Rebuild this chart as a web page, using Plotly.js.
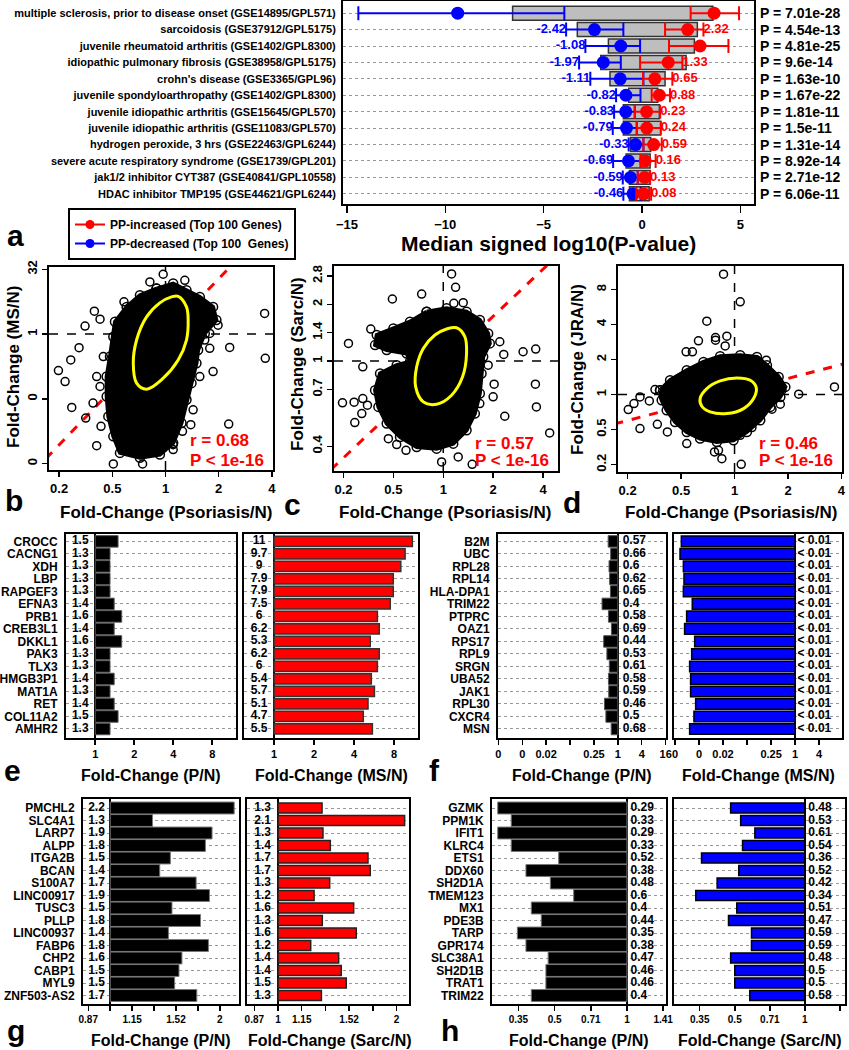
<!DOCTYPE html>
<html><head><meta charset="utf-8">
<script src="https://cdn.plot.ly/plotly-3.0.1.min.js"></script>
<style>html,body{margin:0;padding:0;background:#fff}#chart{width:849px;height:1050px}</style>
</head><body><div id="chart"></div>
<script>
// ================= DATA =================
// Panel a
const aNames = [
 "multiple sclerosis, prior to disease onset (GSE14895/GPL571)",
 "sarcoidosis (GSE37912/GPL5175)",
 "juvenile rheumatoid arthritis (GSE1402/GPL8300)",
 "idiopathic pulmonary fibrosis (GSE38958/GPL5175)",
 "crohn's disease (GSE3365/GPL96)",
 "juvenile spondyloarthropathy (GSE1402/GPL8300)",
 "juvenile idiopathic arthritis (GSE15645/GPL570)",
 "juvenile idiopathic arthritis (GSE11083/GPL570)",
 "hydrogen peroxide, 3 hrs (GSE22463/GPL6244)",
 "severe acute respiratory syndrome (GSE1739/GPL201)",
 "jak1/2 inhibitor CYT387 (GSE40841/GPL10558)",
 "HDAC inhibitor TMP195 (GSE44621/GPL6244)"];
const aPvals = ["7.01e-28","4.54e-13","4.81e-25","9.6e-14","1.63e-10","1.67e-22","1.81e-11","1.5e-11","1.31e-14","8.92e-14","2.71e-12","6.06e-11"];
const aBoxLo = [-6.58,-3.29,-1.71,-2.10,-1.63,-0.68,-0.95,-0.95,-0.58,-0.81,-0.64,-0.64];
const aBoxHi = [3.60,2.81,2.66,2.24,1.17,0.80,0.88,0.95,0.44,0.41,0.41,0.36];
const aBlueMed = [-9.37,-2.42,-1.08,-1.97,-1.11,-0.82,-0.83,-0.79,-0.33,-0.69,-0.59,-0.46];
const aBlueLo  = [-14.42,-3.86,-2.88,-3.20,-2.63,-1.32,-1.42,-1.49,-0.68,-1.47,-0.98,-0.95];
const aBlueHi  = [-3.95,-0.95,-0.10,-1.08,0.07,-0.08,-0.37,-0.27,0.07,-0.07,-0.22,-0.07];
const aBlueLab = ["","-2.42","-1.08","-1.97","-1.11","-0.82","-0.83","-0.79","-0.33","-0.69","-0.59","-0.46"];
const aRedMed = [3.66,2.32,2.95,1.33,0.65,0.88,0.23,0.24,0.59,0.16,0.13,0.08];
const aRedLo  = [2.47,1.17,1.37,-0.10,0.05,0.49,-0.37,-0.27,0.07,-0.07,-0.22,-0.29];
const aRedHi  = [4.93,3.12,4.39,2.05,1.54,1.42,0.92,0.95,1.00,0.69,0.41,0.46];
const aRedLab = ["","2.32","","1.33","0.65","0.88","0.23","0.24","0.59","0.16","0.13","0.08"];

// Panel b (log2 fold-change, Psoriasis/N vs MS/N)
const bCloudX = [-0.169,0.144,0.394,0.644,0.894,0.956,0.7375,0.6125,0.581,0.488,0.394,0.300,0.144,-0.106,-0.481,-0.856,-0.981,-1.075,-1.106,-1.106,-1.044,-0.981,-0.95,-0.731,-0.481];
const bCloudY = [3.51,3.90,3.38,2.87,2.10,1.08,0.05,-1.23,-2.26,-3.79,-5.08,-6.87,-8.41,-9.31,-9.56,-9.18,-7.90,-6.36,-4.82,-3.28,-1.74,-0.21,0.95,2.10,3.0];
const bEllX = [0.2375,0.394,0.425,0.394,0.2375,-0.044,-0.356,-0.544,-0.606,-0.544,-0.356,-0.106,0.1125,0.2375];
const bEllY = [2.92,2.10,1.08,-0.46,-2.0,-3.41,-4.26,-3.79,-2.26,-0.46,1.33,2.41,2.87,2.92];
const bOutX = [-0.044,-0.294,0.3625,-0.781,-1.3375,-1.231,-1.5125,-1.625,-1.781,-2.0125,-1.8875,-1.7625,-1.5,-1.294,-0.981,-0.431,1.8625,1.875,1.206,0.9875,0.831,0.894,1.1875,0.475,0.319,0.144,-1.2125,-1.3625,-1.231,-1.294,-1.169,0.831,0.7375,0.644,0.519,0.144,-0.825,-1.0125];
const bOutY = [4.62,4.03,4.15,2.49,1.77,1.15,0.62,-1.05,-2.0,-2.82,-3.67,-5.67,-6.49,-8.62,-10.03,-10.03,1.59,-1.87,-1.03,0.69,-1.10,-2.90,-6.95,-7.0,-7.51,-8.54,-7.13,-5.33,-4.05,-3.28,-1.74,0.05,-0.46,-3.28,-5.85,-8.92,-8.92,-4.31];
const bLineX = [-2.25,1.3], bLineY = [-9.63,5.56];
const bXTicks = ["0.2","0.5","1","2","4"], bYTicks = ["32","1","0","0"];

// Panel c (Psoriasis/N vs Sarc/N)
const cCloudX = [-0.333,0.067,0.467,0.733,0.9,0.933,0.8,0.767,0.733,0.633,0.467,0.2,-0.133,-0.533,-0.867,-1.133,-1.3,-1.367,-1.267,-0.933,-0.667,-0.733,-1.133,-1.367,-1.333,-1.0,-0.667];
const cCloudY = [0.871,0.929,0.871,0.724,0.488,0.312,0.076,-0.218,-0.571,-0.924,-1.218,-1.453,-1.541,-1.512,-1.335,-1.1,-0.806,-0.512,-0.218,-0.071,-0.012,0.135,0.194,0.282,0.459,0.576,0.694];
const cEllX = [0.267,0.433,0.467,0.387,0.167,-0.133,-0.4,-0.553,-0.533,-0.4,-0.167,0.067,0.267];
const cEllY = [0.588,0.429,0.135,-0.276,-0.6,-0.759,-0.718,-0.453,-0.1,0.224,0.459,0.565,0.588];
const cOutX = [0.167,0.247,0.213,0.4,-0.433,-1.02,-1.453,-1.9,-1.613,-2.02,-1.787,-1.613,-1.52,-1.773,-1.633,-1.1,-0.933,-0.747,-0.033,0.3,0.58,1.133,1.6,1.853,1.213,1.02,1.233,1.847,1.867,2.133,1.0,0.9,0.733];
const cOutY = [1.535,1.3,1.018,1.03,1.18,1.094,0.565,0.312,-0.1,-0.735,-0.724,-0.659,-0.776,-1.082,-0.924,-1.365,-1.47,-1.571,-1.776,-1.688,-1.818,0.341,0.165,0.212,0.118,-0.406,-0.971,-0.406,-0.806,-1.265,-0.629,-0.071,-0.747];
const cLineX = [-2.25,2.35], cLineY = [-1.91,1.91];
const cYTicks = ["2.8","2","1.4","1","0.7","0.4"];

// Panel d (Psoriasis/N vs JRA/N)
const dCloudX = [-1.394,-1.206,-0.894,-0.581,-0.269,0.106,0.419,0.606,0.825,0.95,0.856,0.669,0.481,0.231,-0.019,-0.331,-0.644,-0.894,-1.1125,-1.269,-1.3625];
const dCloudY = [0.124,0.41,0.695,0.933,1.095,1.124,1.076,0.838,0.505,0.219,-0.067,-0.352,-0.733,-1.067,-1.305,-1.352,-1.257,-1.067,-0.781,-0.448,-0.162];
const dEllX = [-0.644,-0.519,-0.269,0.044,0.294,0.406,0.356,0.169,-0.144,-0.456,-0.6125,-0.644];
const dEllY = [-0.114,0.171,0.39,0.476,0.41,0.2,-0.114,-0.4,-0.543,-0.495,-0.333,-0.114];
const dOutX = [-0.206,0.106,-0.519,-0.356,-0.356,-0.675,-0.144,-0.906,-0.788,0.138,0.419,-0.175,-1.769,-1.988,-1.881,-1.594,-1.488,-1.769,-1.444,-1.256,-0.894,-0.375,-0.3,-0.2375,0.125,0.594,0.7625,0.856,0.7,1.2,1.869,0.325,0.106,0.8875,0.731,-1.05,-1.331];
const dOutY = [3.438,2.648,2.095,1.629,1.552,1.533,1.667,1.219,1.219,1.0,0.981,1.39,-0.067,-0.429,-0.257,-0.181,0.143,-0.971,-0.848,-1.067,-1.4,-1.638,-1.59,-1.829,-1.99,0.981,0.505,-0.276,-0.419,0.01,0.219,-0.943,-1.162,0.124,0.381,-0.733,-0.067];
const dLineX = [-2.25,2.1], dLineY = [-0.84,0.90];
const dYTicks = ["8","4","2","1","0.5","0.2"];

// Panel e
const eGenes = ["CROCC","CACNG1","XDH","LBP","RAPGEF3","EFNA3","PRB1","CREB3L1","DKKL1","PAK3","TLX3","HMGB3P1","MAT1A","RET","COL11A2","AMHR2"];
const eP  = [1.5,1.3,1.3,1.3,1.3,1.4,1.6,1.4,1.6,1.3,1.3,1.4,1.3,1.4,1.5,1.3];
const eMS = [11,9.7,9,7.9,7.9,7.5,6,6.2,5.3,6.2,6,5.4,5.7,5.1,4.7,5.5];
// Panel f
const fGenes = ["B2M","UBC","RPL28","RPL14","HLA-DPA1","TRIM22","PTPRC","OAZ1","RPS17","RPL9","SRGN","UBA52","JAK1","RPL30","CXCR4","MSN"];
const fP = [0.57,0.66,0.6,0.62,0.65,0.4,0.58,0.69,0.44,0.53,0.61,0.58,0.59,0.46,0.5,0.68];
const fMSlog2 = [-9.47,-9.58,-9.3,-9.25,-9.3,-8.56,-9.03,-9.2,-8.36,-8.61,-8.78,-8.7,-8.7,-8.28,-8.42,-8.78];
const fMSlab = "< 0.01";
// Panel g
const gGenes = ["PMCHL2","SLC4A1","LARP7","ALPP","ITGA2B","BCAN","S100A7","LINC00917","TUSC3","PLLP","LINC00937","FABP6","CHP2","CABP1","MYL9","ZNF503-AS2"];
const gP = [2.19,1.307,1.904,1.826,1.463,1.368,1.722,1.873,1.478,1.770,1.445,1.861,1.574,1.545,1.503,1.729];
const gPlab = ["2.2","1.3","1.9","1.8","1.5","1.4","1.7","1.9","1.5","1.8","1.4","1.8","1.6","1.5","1.5","1.7"];
const gSarc = [1.294,2.098,1.301,1.358,1.693,1.716,1.353,1.235,1.557,1.296,1.581,1.211,1.426,1.448,1.491,1.289];
const gSarcLab = ["1.3","2.1","1.3","1.4","1.7","1.7","1.3","1.2","1.6","1.3","1.6","1.2","1.4","1.4","1.5","1.3"];
// Panel h
const hGenes = ["GZMK","PPM1K","IFIT1","KLRC4","ETS1","DDX60","SH2D1A","TMEM123","MX1","PDE3B","TARP","GPR174","SLC38A1","SH2D1B","TRAT1","TRIM22"];
const hP = [0.29,0.33,0.29,0.33,0.52,0.38,0.48,0.6,0.4,0.44,0.35,0.38,0.47,0.46,0.46,0.4];
const hSarc = [0.48,0.53,0.61,0.54,0.36,0.52,0.42,0.34,0.51,0.47,0.59,0.59,0.48,0.5,0.5,0.58];

// ================= HELPERS =================
const F = '"Liberation Sans", Arial, Helvetica, sans-serif';
const W = 849, H = 1050;
const xd = (a,b) => [a/W, b/W];
const yd = (t,b) => [1-b/H, 1-t/H];
const idx = n => Array.from({length:n}, (_,i) => i);
const fnt = (size, color) => ({family:F, size:size, color:color||'#000', weight:'bold'});
function ax(extra){
  return Object.assign({showline:true, mirror:true, linecolor:'#000', linewidth:2,
    ticks:'outside', ticklen:5, tickwidth:1.5, tickcolor:'#000', zeroline:false,
    showgrid:false, fixedrange:true, tickfont:fnt(12)}, extra);
}
const fmt = v => String(v);

const traces = [];
const layout = {width:W, height:H, margin:{l:0,r:0,t:0,b:0}, paper_bgcolor:'#fff', plot_bgcolor:'#fff',
  font:{family:F}, showlegend:true, shapes:[], annotations:[]};

// ================= PANEL a =================
layout.xaxis = ax({domain:xd(343,754), anchor:'y', range:[-15.2,5.69], tickvals:[-15,-10,-5,0,5], ticklen:7, tickfont:fnt(13)});
layout.yaxis = ax({domain:yd(1,204), anchor:'x', range:[11.62,-0.74], tickvals:idx(12), ticktext:aNames, ticks:'',
  showgrid:true, gridcolor:'#999', griddash:'dot', gridwidth:1, tickfont:fnt(11), ticklabelstandoff:3});
traces.push({type:'bar', orientation:'h', xaxis:'x', yaxis:'y', y:idx(12), base:aBoxLo,
  x:aBoxHi.map((h,i)=>h-aBoxLo[i]), width:0.85, marker:{color:'#BEBEBE', line:{color:'#333', width:1.5}}, showlegend:false, hoverinfo:'skip'});
traces.push({type:'scatter', mode:'markers', xaxis:'x', yaxis:'y', x:aBlueMed, y:idx(12), showlegend:false,
  marker:{color:'#0000FF', size:13},
  error_x:{type:'data', symmetric:false, array:aBlueHi.map((h,i)=>h-aBlueMed[i]), arrayminus:aBlueMed.map((m,i)=>m-aBlueLo[i]), color:'#0000FF', thickness:2, width:7}});
traces.push({type:'scatter', mode:'markers', xaxis:'x', yaxis:'y', x:aRedMed, y:idx(12), showlegend:false,
  marker:{color:'#FF0000', size:13},
  error_x:{type:'data', symmetric:false, array:aRedHi.map((h,i)=>h-aRedMed[i]), arrayminus:aRedMed.map((m,i)=>m-aRedLo[i]), color:'#FF0000', thickness:2, width:7}});
traces.push({type:'scatter', mode:'text', xaxis:'x', yaxis:'y', x:aBlueLo, y:idx(12), text:aBlueLab, textposition:'middle left', textfont:fnt(13,'#0000FF'), showlegend:false});
traces.push({type:'scatter', mode:'text', xaxis:'x', yaxis:'y', x:aRedHi, y:idx(12), text:aRedLab, textposition:'middle right', textfont:fnt(13,'#FF0000'), showlegend:false});
// legend entries
traces.push({type:'scatter', mode:'lines+markers', xaxis:'x', yaxis:'y', x:[null], y:[null], name:'PP-increased (Top 100 Genes)', line:{color:'#FF0000', width:2}, marker:{color:'#FF0000', size:9}});
traces.push({type:'scatter', mode:'lines+markers', xaxis:'x', yaxis:'y', x:[null], y:[null], name:'PP-decreased (Top 100  Genes)', line:{color:'#0000FF', width:2}, marker:{color:'#0000FF', size:9}});
layout.legend = {x:68/W, y:1-208/H, xanchor:'left', yanchor:'top', bordercolor:'#000', borderwidth:2, bgcolor:'#fff',
  font:fnt(12), tracegroupgap:0, itemwidth:30};
aPvals.forEach((p,i)=>layout.annotations.push({text:'P = '+p, xref:'paper', yref:'y', x:758/W, y:i, xanchor:'left', yanchor:'middle', showarrow:false, font:fnt(14)}));

// ================= PANELS b, c, d =================
function scatterPanel(n, box, xr, yr, ytv, ytt, cloudX, cloudY, ellX, ellY, outX, outY, lineX, lineY){
  const xa='x'+n, ya='y'+n;
  layout['xaxis'+n] = ax({domain:xd(box[0],box[1]), anchor:ya, range:xr, tickvals:[-2,-1,0,1,2], ticktext:bXTicks, tickfont:fnt(13)});
  layout['yaxis'+n] = ax({domain:yd(box[2],box[3]), anchor:xa, range:yr, tickvals:ytv, ticktext:ytt, tickangle:-90, tickfont:fnt(13)});
  layout.shapes.push({type:'line', xref:xa, yref:ya+' domain', x0:0, x1:0, y0:0, y1:1, layer:'below', line:{color:'#000', width:1.5, dash:'dash'}});
  layout.shapes.push({type:'line', xref:xa+' domain', yref:ya, x0:0, x1:1, y0:0, y1:0, layer:'below', line:{color:'#000', width:1.5, dash:'dash'}});
  traces.push({type:'scatter', mode:'lines', xaxis:xa, yaxis:ya, x:lineX, y:lineY, line:{color:'#FF0000', width:3, dash:'dash'}, showlegend:false});
  traces.push({type:'scatter', mode:'lines+markers', xaxis:xa, yaxis:ya, x:cloudX.concat([cloudX[0]]), y:cloudY.concat([cloudY[0]]), fill:'toself', fillcolor:'#000',
    line:{color:'#000', width:4}, marker:{symbol:'circle-open', size:9, color:'#000', line:{width:1.5}}, showlegend:false});
  traces.push({type:'scatter', mode:'markers', xaxis:xa, yaxis:ya, x:outX, y:outY, marker:{symbol:'circle-open', size:8, color:'#000', line:{width:1.5}}, showlegend:false});
  traces.push({type:'scatter', mode:'lines', xaxis:xa, yaxis:ya, x:ellX, y:ellY, line:{color:'#FFFF00', width:3, shape:'spline'}, showlegend:false});
}
scatterPanel(2, [49,273,267,470], [-2.19,2.02], [-10.5,5.18], [5,0,-5,-10], bYTicks, bCloudX,bCloudY,bEllX,bEllY,bOutX,bOutY,bLineX,bLineY);
scatterPanel(3, [334,558,266,471], [-2.19,2.3], [-1.935,1.675], [1.5,1,0.5,0,-0.5,-1.5], cYTicks, cCloudX,cCloudY,cEllX,cEllY,cOutX,cOutY,cLineX,cLineY);
scatterPanel(4, [618,842,266,472], [-2.18,2.01], [-2.21,3.67], [3,2,1,0,-1,-2], dYTicks, dCloudX,dCloudY,dEllX,dEllY,dOutX,dOutY,dLineX,dLineY);

// ================= BAR PANELS e,f,g,h =================
function barPanel(n, box, xr, yr, xtv, xtt, genes, barX, barW, color, lineCol, lineW, txt, txtX, txtPos, tickSize){
  const xa='x'+n, ya='y'+n;
  layout['xaxis'+n] = ax({domain:xd(box[0],box[1]), anchor:ya, range:xr, tickvals:xtv, ticktext:xtt,
    zeroline:true, zerolinecolor:'#000', zerolinewidth:2, tickfont:fnt(tickSize)});
  const yax = ax({domain:yd(box[2],box[3]), anchor:xa, range:yr, tickvals:idx(16), ticks:'',
    showgrid:true, gridcolor:'#999', griddash:'dot', gridwidth:1, tickfont:fnt(12), ticklabelstandoff:4});
  if (genes) yax.ticktext = genes; else yax.showticklabels = false;
  layout['yaxis'+n] = yax;
  traces.push({type:'bar', orientation:'h', xaxis:xa, yaxis:ya, y:idx(16), x:barX, base:0, width:barW,
    marker:{color:color, line:{color:lineCol, width:lineW}}, showlegend:false, hoverinfo:'skip'});
  traces.push({type:'scatter', mode:'text', xaxis:xa, yaxis:ya, y:idx(16), x:idx(16).map(()=>txtX), text:txt,
    textposition:txtPos, textfont:fnt(12), showlegend:false});
}
const log2 = v => Math.log2(v);
const eT = ['1','2','4','8'];
barPanel(5, [66,236,534,738], [-0.75,3.61], [15.72,-0.59], [0,1,2,3], eT, eGenes, eP.map(log2), 0.92, '#000', '#555', 1, eP.map(fmt), -0.385, 'middle center', 11);
barPanel(6, [244,418,534,738], [-0.75,3.6], [15.72,-0.59], [0,1,2,3], eT, null, eMS.map(log2), 0.82, '#FF0000', '#333', 1.5, eMS.map(fmt), -0.37, 'middle center', 11);
const fT = ['0','0','0.02','','0.25','1','4','16'], fV=[-10,-8,-6,-4,-2,0,2,4];
barPanel(7, [498,666,534,738], [-10.03,4.03], [15.72,-0.59], fV, fT, fGenes, fP.map(log2), 0.92, '#000', '#555', 1, fP.map(fmt), 0.4, 'middle right', 11);
barPanel(8, [674,842,534,738], [-10.08,3.9], [15.72,-0.59], fV, fT, null, fMSlog2, 0.85, '#0000FF', '#000', 1.5, fMSlog2.map(()=>fMSlab), 0.2, 'middle right', 11);
const gV = [-0.2,0,0.2,0.4,0.6,0.8,1.0];
barPanel(9, [83,239,799,1004], [-0.248,1.175], [15.68,-0.72], gV, ['0.87','','1.15','','1.52','','2'], gGenes, gP.map(log2), 0.95, '#000', '#777', 1, gPlab, -0.125, 'middle center', 10);
barPanel(10, [247,409,799,1004], [-0.262,1.106], [15.68,-0.72], gV, ['0.87','1','1.15','','1.52','','2'], null, gSarc.map(log2), 0.8, '#FF0000', '#222', 1.5, gSarcLab, -0.13, 'middle center', 10);
const hV = [-1.5,-1,-0.5,0,0.5], hT = ['0.35','0.5','0.71','1','1.41'];
barPanel(11, [492,666,799,1004], [-1.865,0.539], [15.68,-0.72], hV, hT, hGenes, hP.map(log2), 0.95, '#000', '#777', 1, hP.map(fmt), 0.05, 'middle right', 10);
barPanel(12, [674,845,799,1004], [-1.867,0.573], [15.68,-0.72], hV, hT, null, hSarc.map(log2), 0.8, '#0000FF', '#000', 1.5, hSarc.map(fmt), 0.05, 'middle right', 10);

// ================= TEXT ANNOTATIONS =================
function ann(text, x, y, size, opts){
  layout.annotations.push(Object.assign({text:text, xref:'paper', yref:'paper', x:x/W, y:1-y/H, xanchor:'center', yanchor:'middle', showarrow:false, font:fnt(size)}, opts||{}));
}
ann('Median signed log10(P-value)', 548, 243, 21);
ann('a', 15, 236, 30);
ann('b', 14, 500, 30); ann('c', 292, 504, 30); ann('d', 572, 502, 30);
ann('e', 12, 770, 30); ann('f', 434, 770, 30); ann('g', 16, 1030, 30); ann('h', 450, 1030, 30);
ann('Fold-Change (MS/N)', 13, 367, 17, {textangle:-90});
ann('Fold-Change (Sarc/N)', 297, 364, 17, {textangle:-90});
ann('Fold-Change (JRA/N)', 577, 370, 17, {textangle:-90});
ann('Fold-Change (Psoriasis/N)', 166, 512, 17);
ann('Fold-Change (Psoriasis/N)', 446, 512, 17);
ann('Fold-Change (Psoriasis/N)', 731, 512, 17);
ann('r = 0.68', 188, 440, 17, {xanchor:'left', font:fnt(17,'#FF0000')});
ann('P < 1e-16', 188, 460, 17, {xanchor:'left', font:fnt(17,'#FF0000')});
ann('r = 0.57', 473, 443, 17, {xanchor:'left', font:fnt(17,'#FF0000')});
ann('P < 1e-16', 473, 461, 17, {xanchor:'left', font:fnt(17,'#FF0000')});
ann('r = 0.46', 757, 443, 17, {xanchor:'left', font:fnt(17,'#FF0000')});
ann('P < 1e-16', 757, 461, 17, {xanchor:'left', font:fnt(17,'#FF0000')});
ann('Fold-Change (P/N)', 151, 775, 16); ann('Fold-Change (MS/N)', 331, 775, 16);
ann('Fold-Change (P/N)', 582, 775, 16); ann('Fold-Change (MS/N)', 758, 775, 16);
ann('Fold-Change (P/N)', 161, 1040, 16); ann('Fold-Change (Sarc/N)', 330, 1040, 16);
ann('Fold-Change (P/N)', 579, 1040, 16); ann('Fold-Change (Sarc/N)', 760, 1040, 16);

Plotly.newPlot('chart', traces, layout, {displayModeBar:false, staticPlot:true});
</script>
</body></html>
